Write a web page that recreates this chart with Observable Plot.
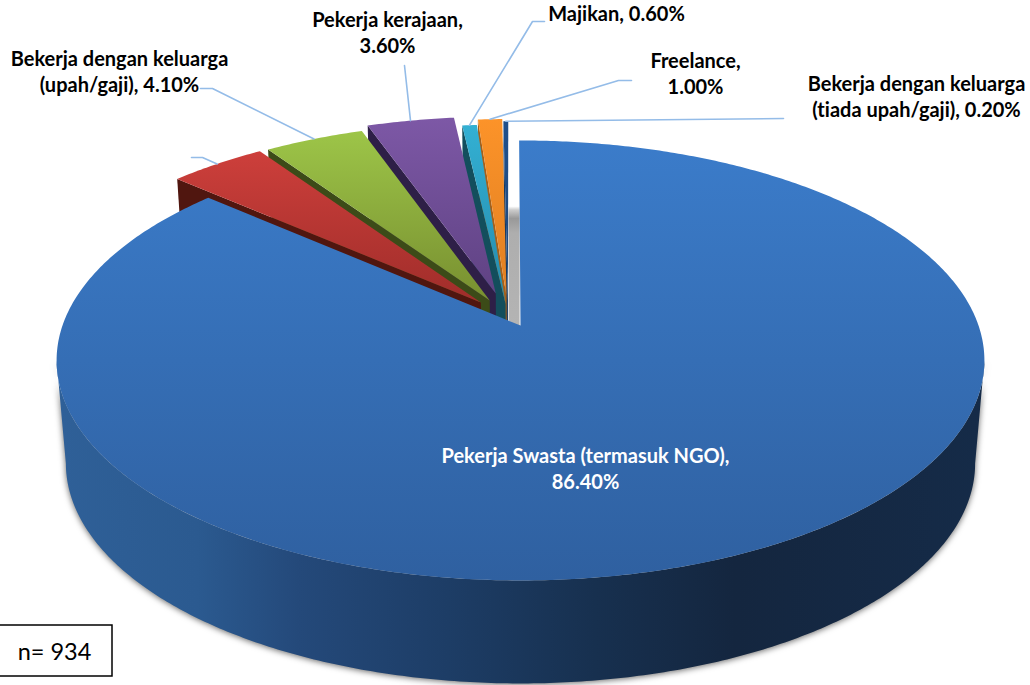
<!DOCTYPE html>
<html><head><meta charset="utf-8">
<script src="https://cdn.jsdelivr.net/npm/d3@7"></script>
<script src="https://cdn.jsdelivr.net/npm/@observablehq/plot@0.6"></script>
<style>
html,body{margin:0;padding:0;background:#fff;width:1030px;height:685px;overflow:hidden}
svg{display:block}
svg text{font-variant-ligatures:none}
[aria-description="wall"]{filter:drop-shadow(0 1px 3px rgba(0,0,0,.6))}
</style></head><body><div id="chart"></div>
<script>
// ---- data ----
const categories = ["Pekerja Swasta (termasuk NGO)", "(tiada label)", "Bekerja dengan keluarga (upah/gaji)", "Pekerja kerajaan", "Majikan", "Freelance", "Bekerja dengan keluarga (tiada upah/gaji)"];
const shares = [86.4, 4.0, 4.1, 3.6, 0.6, 1.0, 0.2];
const labelTexts = ["Pekerja Swasta (termasuk NGO),\n86.40%", "", "Bekerja dengan keluarga\n(upah/gaji), 4.10%", "Pekerja kerajaan,\n3.60%", "Majikan, 0.60%", "Freelance,\n1.00%", "Bekerja dengan keluarga\n(tiada upah/gaji), 0.20%"];
const sampleSize = "n= 934";

// ---- styling / layout ----
const topLight = ["#3b7cca", "#cd3f3b", "#9dc548", "#7d58a6", "#33b0d3", "#fc9329", "#1f4f8a"];
const topDark  = ["#2f60a0", "#a02d2a", "#788f30", "#5f4283", "#258aab", "#df7f22", "#1f497d"];
const wallCol  = [null, "#50160f", "#3c4b18", "#2e1f47", "#134e5c", "#a5601a", "#17395f"];
const explode  = [[0,0],[-0.088,0.109],[-0.0684,0.1188],[-0.0553,0.153],[-0.033,0.102],[-0.031,0.137],[-0.028,0.123]];
const rotation = -0.0035;
const labelPos = [[585,467],null,[119,70],[387,31],[616,12],[695,72],[916,95]];
const labelColor = ["#fff",null,"#000","#000","#000","#000","#000"];
const leaderEnds = [null,[[202,157],[191,157]],[[212,88],[200,88]],[[404,65]],[[532,21],[544,21]],[[618,80],[631,80]],[[783,118]]];
const cam = {cx:520, cy:325, a:458, b:214.4, k:0.159, h:103, s:0.98};

const W = 1030, H = 685;
function project(u, v, base = false) {
  const d = 1 + cam.k * v;
  const s = base ? cam.s : 1;
  return {x: cam.cx + cam.a * u * s / d, y: cam.cy - cam.b * v / d + (base ? cam.h : 0)};
}
const total = d3.sum(shares);
const cum = d3.cumsum(shares).map(c => c / total * 2 * Math.PI + rotation);
const startA = i => i === 0 ? rotation : cum[i - 1];
const endA = i => cum[i];
function arc(i, a0, a1, base = false) {
  const n = Math.max(2, Math.ceil(Math.abs(a1 - a0) / 0.01));
  const [du, dv] = explode[i];
  return d3.range(n + 1).map(j => {
    const t = a0 + (a1 - a0) * j / n;
    return project(Math.sin(t) + du, Math.cos(t) + dv, base);
  });
}
const sliceTop = i => [project(...explode[i]), ...arc(i, startA(i), endA(i))];
function cutWall(i) {
  const a = startA(i), [du, dv] = explode[i];
  const o = [Math.sin(a) + du, Math.cos(a) + dv];
  return [project(du, dv), project(...o), project(...o, true), project(du, dv, true)];
}
// blue outer wall: between the two silhouette tangents of the rim
const wallA0 = Math.acos(-cam.k), wallA1 = 2 * Math.PI - wallA0;
const blueWall = [...arc(0, wallA0, wallA1), ...arc(0, wallA1, wallA0, true)];
// grey inner wall of the main slice
const inner = [project(-0.002, 0.61), project(-0.029, 0.61), project(-0.026, 0.022), project(-0.002, -0.012)];

const poly = (pts, o) => Plot.line(pts, {x: "x", y: "y", curve: "linear-closed", stroke: "none", ...o});

const defs = () => {
  const d = d3.create("svg:defs");
  shares.forEach((_, i) => {
    const g = d.append("linearGradient").attr("id", "top" + i).attr("x1", 0).attr("x2", 0).attr("y1", 0).attr("y2", 1);
    g.append("stop").attr("offset", 0).attr("stop-color", topLight[i]);
    g.append("stop").attr("offset", 1).attr("stop-color", topDark[i]);
  });
  const w = d.append("linearGradient").attr("id", "wall").attr("gradientUnits", "userSpaceOnUse").attr("x1", 57).attr("x2", 985).attr("y1", 0).attr("y2", 0);
  [[0,"#2f6098"],[0.15,"#2b5a90"],[0.26,"#24497a"],[0.42,"#1d3d66"],[0.58,"#17304f"],[0.73,"#14263f"],[1,"#152b48"]]
    .forEach(([o, c]) => w.append("stop").attr("offset", o).attr("stop-color", c));
  const gr = d.append("linearGradient").attr("id", "inner").attr("x1", 0).attr("x2", 0).attr("y1", 0).attr("y2", 1);
  [[0,"#fff"],[0.03,"#ccc"],[0.1,"#999"],[0.22,"#aeaeae"],[1,"#b4b4b4"]]
    .forEach(([o, c]) => gr.append("stop").attr("offset", o).attr("stop-color", c));
  return d.node();
};

const marks = [defs];
marks.push(poly(blueWall, {fill: "url(#wall)", ariaDescription: "wall"}));
marks.push(poly(inner, {fill: "url(#inner)"}));
// exploded slices, back to front
for (let i = shares.length - 1; i >= 1; i--) {
  marks.push(poly(cutWall(i), {fill: wallCol[i]}));
  marks.push(poly(sliceTop(i), {fill: `url(#top${i})`}));
}
marks.push(poly(sliceTop(0), {fill: "url(#top0)"}));

// leader lines
leaderEnds.forEach((ends, i) => {
  if (!ends) return;
  const mid = (startA(i) + endA(i)) / 2, [du, dv] = explode[i];
  const p0 = project(Math.sin(mid) + du, Math.cos(mid) + dv);
  const pts = [p0, ...ends.map(([x, y]) => ({x, y}))];
  marks.push(Plot.line(pts, {x: "x", y: "y", stroke: "#94bce8", strokeWidth: 1.6, curve: "linear"}));
});

// labels
const labelRows = labelTexts.map((text, i) => ({text, pos: labelPos[i], color: labelColor[i]})).filter(d => d.text);
marks.push(Plot.text(labelRows, {x: d => d.pos[0], y: d => d.pos[1], text: "text", fill: d => d.color,
  fontFamily: "Lato", fontWeight: 700, fontSize: 20, lineHeight: 1.3, textAnchor: "middle", frameAnchor: "middle"}));

// n box
marks.push(Plot.rect([{}], {x1: () => -2, x2: () => 112, y1: () => 625, y2: () => 676, fill: "#fff", stroke: "#000", strokeWidth: 1.5}));
marks.push(Plot.text([sampleSize], {x: () => 54, y: () => 652, text: d => d, fontFamily: "Lato", fontSize: 23.5, fill: "#000", textAnchor: "middle"}));

const chart = Plot.plot({
  width: W, height: H, margin: 0,
  x: {axis: null, domain: [0, W], range: [0, W]},
  y: {axis: null, domain: [0, H], range: [0, H]},
  color: {type: "identity"},
  style: {background: "#fff"},
  marks
});
document.getElementById("chart").appendChild(chart);
</script></body></html>
